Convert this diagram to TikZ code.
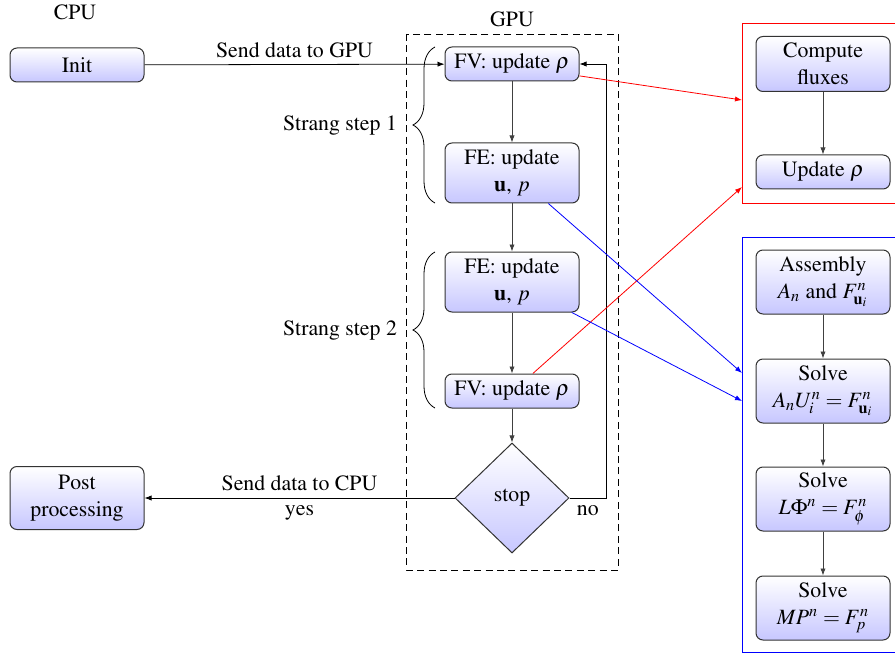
\documentclass[tikz,border=0pt]{standalone}
\usepackage[T1]{fontenc}
\usepackage{mathptmx}
\usetikzlibrary{shapes.geometric,arrows.meta,decorations.pathreplacing,calc}
\begin{document}
\begin{tikzpicture}[x=0.5pt,y=-0.5pt,
  font=\fontsize{10.9}{13.5}\selectfont,
  box/.style={draw=black!80, line width=0.5pt, rounded corners=3.5pt, top color=white, bottom color=blue!22, minimum width=67pt, align=center, inner sep=2pt},
  one/.style={box, minimum height=17pt},
  two/.style={box, minimum height=30pt},
  three/.style={box, minimum height=32pt},
  dia/.style={draw=black!80, line width=0.5pt, diamond, top color=white, bottom color=blue!22, minimum width=57pt, minimum height=55pt, inner sep=0pt},
  arr/.style={-{Latex[length=3.5pt,width=2.6pt]}},
  flow/.style={arr, draw=black!75},
  brc/.style={decorate, decoration={brace, amplitude=11pt}},
  ]
\clip (0,0) rectangle (895,658);
\useasboundingbox (0,0) rectangle (895,658);

% CPU side
\node (cpu) at (75,12) {CPU};
\node[one] (init) at (77,65) {Init};
\node[two, minimum height=31.5pt] (post) at (77,498) {Post\\processing};

% GPU side
\node (gpu) at (512,19) {GPU};
\draw[dashed, dash pattern=on 3.5pt off 2.2pt] (406,34) rectangle (618,570);
\node[one] (fv1) at (512,64) {FV: update $\rho$};
\node[two] (fe1) at (512,173) {FE: update\\$\mathbf{u}$, $p$};
\node[two] (fe2) at (512,282) {FE: update\\$\mathbf{u}$, $p$};
\node[one] (fv2) at (512,391) {FV: update $\rho$};
\node[dia] (stop) at (512,498) {\raisebox{-1pt}{stop}};
\coordinate (loop) at (606,498);

% braces
\draw[brc] (435,203) -- node[midway, left=15.5pt] (s1lab) {Strang step 1} (435,47);
\draw[brc] (435,408) -- node[midway, left=15.5pt] (s2lab) {Strang step 2} (435,252);

% FV detail box
\draw[red] (742,23) rectangle (910,203);
\node[box, minimum height=27.5pt] (flux) at (823,64) {Compute\\fluxes};
\node[one] (upd) at (823,172) {Update $\rho$};

% FE detail box
\draw[blue] (742,237) rectangle (910,652);
\node[three] (asm) at (823,282) {Assembly\\$A_n$ and $F^n_{\mathbf{u}_i}$};
\node[three] (sa) at (823,391) {Solve\\$A_nU^n_i = F^n_{\mathbf{u}_i}$};
\node[three] (sb) at (823,499) {Solve\\$L\Phi^n = F^n_\phi$};
\node[three] (sc) at (823,608) {Solve\\$MP^n = F^n_p$};

\coordinate (r1) at (742,100);
\coordinate (r2) at (742,187);
\coordinate (b1) at (742,373);
\coordinate (b2) at (742,401);

% connectors
\draw[arr] (init) -- node[above] {Send data to GPU} (fv1);
\draw[flow] (fv1) -- (fe1);
\draw[flow] (fe1) -- (fe2);
\draw[flow] (fe2) -- (fv2);
\draw[flow] (fv2) -- (stop);
\draw[arr] (stop.east) -- node[below] {no} (loop) |- (fv1.east);
\draw[arr] (stop) -- node[above] {Send data to CPU} node[below] {yes} (post);

\draw[flow] (flux) -- (upd);
\draw[flow] (asm) -- (sa);
\draw[flow] (sa) -- (sb);
\draw[flow] (sb) -- (sc);

\draw[arr, red] (fv1.-10) -- (r1);
\draw[arr, red] (fv2.40) -- (r2);
\draw[arr, blue] (fe1.-40) -- (b1);
\draw[arr, blue] (fe2.-27) -- (b2);
\end{tikzpicture}
\end{document}
